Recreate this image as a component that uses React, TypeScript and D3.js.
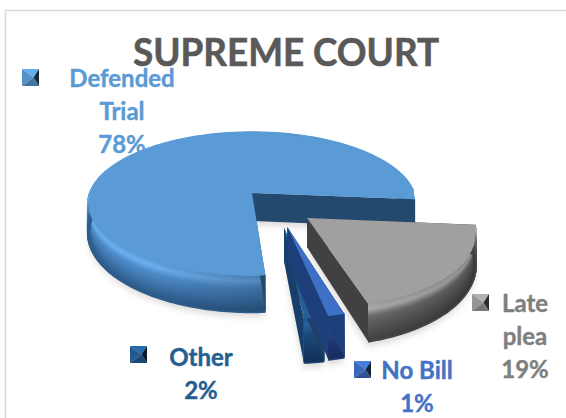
import React from "react";
import * as d3 from "d3";

const W = 566, H = 418;
const titleText = "SUPREME COURT";
// Clockwise from the right: Late plea, No Bill, Other, Defended Trial
const categories = ["Late plea", "No Bill", "Other", "Defended Trial"];
const values = [19.4, 1.4, 1.7, 77.5];
const percentLabels = ["19%", "1%", "2%", "78%"];
const labelLines = [["Late", "plea", "19%"], ["No Bill", "1%"], ["Other", "2%"], ["Defended", "Trial", "78%"]];
const sliceColors = ["#a0a0a0", "#3f70c8", "#23609c", "#5b9bd5"];
const textColors = ["#7f7f7f", "#4472c4", "#255e91", "#5b9bd5"];

// styling / layout (by slice index)
const explodeU = [0.318, 0.2, 0.181, 0];
const explodeV = [0.335, 0.447, 0.459, 0];
const radius = [0.95, 0.93, 0.93, 0.985];
const depth = [27, 30, 30, 28];
const edgeColor = ["#414141", "#1d3f7a", "#173f6b", "#234a6e"];
const rimEndTrim = [0, 0, 0, 0.12];
const rimRamps = [
  ["#a0a0a0", "#b4b4b4", "#6e6e6e", "#585858", "#464646"],
  ["#3f70c8", "#3a68b8", "#2b4f97", "#233f82", "#1f3a78"],
  ["#23609c", "#2a6bab", "#1f568f", "#1a4a80", "#163f70"],
  ["#5b9bd5", "#6db0ee", "#4f8cc9", "#3f74ab", "#2e5c8a"],
];
const labelAnchors = [[525, 312], [417, 379], [201, 366], [122, 87]];
const keyBoxes = [[472, 294], [354, 361], [130, 346], [22, 69]];
const lineHeight = 33;
const keySize = 17;

// perspective projection of the pie's ground plane
const ox = 252, oy = 193, A = 164, a = 70.7, b = 0.159;
const project = (u: number, v: number, drop = 0): [number, number] => {
  const den = 1 - b * v;
  return [ox + (A * u) / den, oy + (a * v) / den + drop / Math.pow(den, 1.5)];
};

const pie = d3.pie<number>().sort(null).startAngle((95 * Math.PI) / 180).endAngle((455 * Math.PI) / 180);
const arcs = pie(values);
const line = d3.line<[number, number]>();
const angleSteps = (s: number, e: number) => {
  const n = Math.max(6, Math.ceil((e - s) / 0.02));
  return d3.range(n + 1).map((i) => s + ((e - s) * i) / n);
};

function Slice({ i }: { i: number }) {
  const { startAngle: s, endAngle: e } = arcs[i];
  const eu = explodeU[i], ev = explodeV[i], r = radius[i], d = depth[i];
  const pt = (t: number, drop = 0) => project(eu + r * Math.sin(t), ev - r * Math.cos(t), drop);
  const apex = (drop = 0) => project(eu, ev, drop);
  const ts = angleSteps(s, e);
  const rimTs = angleSteps(s, e - rimEndTrim[i]);
  const top = line([apex(), ...ts.map((t) => pt(t))]) + "Z";
  const rimColor = d3.scaleLinear<string>().domain([0, 0.18, 0.38, 0.7, 1]).range(rimRamps[i]);
  const layers = d3.range(0, 1.001, 0.02);
  const rimArea = line([...rimTs.map((t) => pt(t)), ...rimTs.slice().reverse().map((t) => pt(t, d))]) + "Z";
  const wall = (t: number) => line([apex(), pt(t), pt(t, d), apex(d)]) + "Z";
  return (
    <g>
      <path d={line([apex(d + 4), ...ts.map((t) => pt(t, d + 4))]) + "Z"} fill="#5a5040" opacity={0.2} filter="url(#soft)" />
      {layers.map((f) => (
        <path key={f} d={line(rimTs.map((t) => pt(t, d * f))) ?? ""} fill="none" stroke={rimColor(f)} strokeWidth={3} />
      ))}
      <path d={rimArea} fill={`url(#rimShade${i})`} />
      <path d={wall(s)} fill={edgeColor[i]} />
      <path d={wall(e)} fill={edgeColor[i]} />
      <path d={top} fill={sliceColors[i]} />
    </g>
  );
}

function Key({ i }: { i: number }) {
  const [x, y] = keyBoxes[i];
  const s = keySize;
  const c = d3.color(sliceColors[i])!;
  const cx = x + s * 0.68, cy = y + s * 0.5;
  const tri = (p: [number, number][], fill: string, k: number) => <path key={k} d={line(p) + "Z"} fill={fill} />;
  return (
    <g>
      {tri([[x, y], [x + s, y], [cx, cy]], c.brighter(0.3).formatHex(), 0)}
      {tri([[x, y], [cx, cy], [x, y + s]], c.darker(0.2).formatHex(), 1)}
      {tri([[x, y + s], [cx, cy], [x + s, y + s]], c.darker(0.8).formatHex(), 2)}
      {tri([[x + s, y], [x + s, y + s], [cx, cy]], c.darker(3.6).formatHex(), 3)}
    </g>
  );
}

export default function App() {
  const font = "Lato, 'Open Sans', sans-serif";
  return (
    <svg width={W} height={H} viewBox={`0 0 ${W} ${H}`} style={{ position: "absolute", left: 0, top: 0, background: "#fff" }}>
      <title>{`${titleText}: ${categories.map((c, i) => `${c} ${percentLabels[i]}`).join(", ")}`}</title>
      <defs>
        <filter id="soft" x="-10%" y="-10%" width="120%" height="120%"><feGaussianBlur stdDeviation="3" /></filter>
        <linearGradient id="rimShade3" gradientUnits="userSpaceOnUse" x1={150} x2={266} y1={0} y2={0}>
          <stop offset="0" stopColor="#10243a" stopOpacity={0} />
          <stop offset="1" stopColor="#10243a" stopOpacity={0.3} />
        </linearGradient>
        <linearGradient id="rimShade0" gradientUnits="userSpaceOnUse" x1={366} x2={478} y1={0} y2={0}>
          <stop offset="0" stopColor="#000" stopOpacity={0.05} />
          <stop offset="1" stopColor="#000" stopOpacity={0.2} />
        </linearGradient>
        <linearGradient id="rimShade1" gradientUnits="userSpaceOnUse" x1={0} x2={0} y1={300} y2={355}>
          <stop offset="0" stopColor="#000" stopOpacity={0} />
          <stop offset="1" stopColor="#000" stopOpacity={0.2} />
        </linearGradient>
        <linearGradient id="rimShade2" gradientUnits="userSpaceOnUse" x1={0} x2={0} y1={300} y2={355}>
          <stop offset="0" stopColor="#000" stopOpacity={0} />
          <stop offset="1" stopColor="#000" stopOpacity={0.2} />
        </linearGradient>
      </defs>
      <path d="M5.5 418V10.5H566" fill="none" stroke="#d9d9d9" strokeWidth={1.5} />
      {[3, 2, 1, 0].map((i) => <Slice key={i} i={i} />)}
      <text x={286} y={66} textAnchor="middle" fontFamily={font} fontWeight={700} fontSize={39}
        fill="#595959" stroke="#595959" strokeWidth={0.6} textLength={306} lengthAdjust="spacingAndGlyphs">{titleText}</text>
      {labelLines.map((lines, i) => (
        <g key={i}>
          <Key i={i} />
          {lines.map((l, j) => (
            <text key={j} x={labelAnchors[i][0]} y={labelAnchors[i][1] + j * lineHeight} textAnchor="middle"
              fontFamily={font} fontWeight={700} fontSize={24} fill={textColors[i]} stroke={textColors[i]} strokeWidth={0.4}>{l}</text>
          ))}
        </g>
      ))}
    </svg>
  );
}
